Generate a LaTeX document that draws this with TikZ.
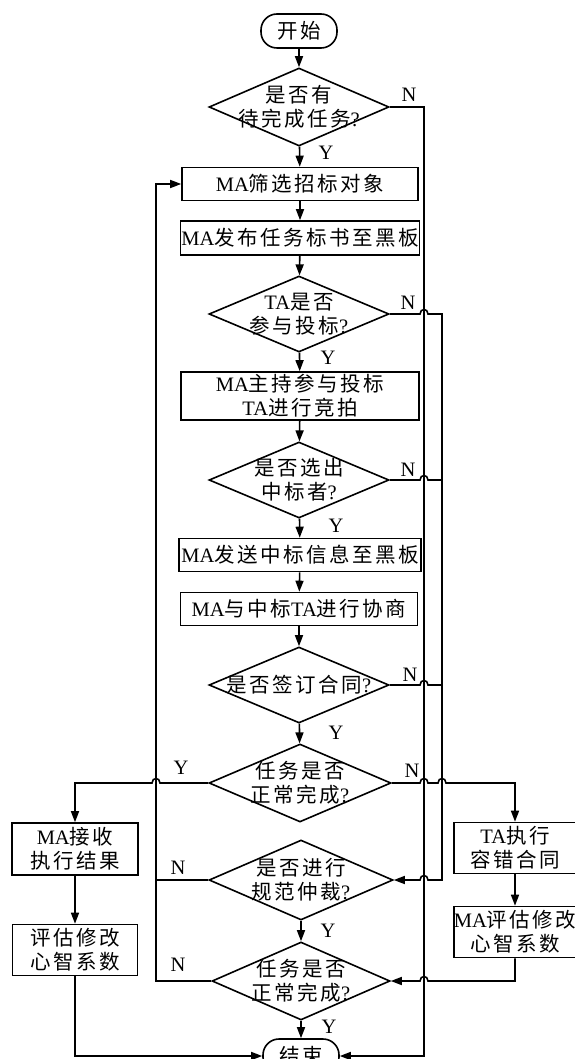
\documentclass[tikz,border=0pt]{standalone}
\usepackage{fontspec}
\setmainfont{Liberation Serif}
\newfontfamily\cjk{Noto Sans CJK SC}[LetterSpace=12]
\usetikzlibrary{shapes.geometric,arrows.meta}
\newcommand\zh[1]{{\cjk #1}}
\begin{document}
\begin{tikzpicture}[x=1pt,y=-1pt,line width=1.6pt,
  font=\fontsize{20.5}{24}\selectfont,
  >={Triangle[length=11pt,width=8pt]},
  box/.style={draw,rectangle,inner sep=0pt,align=center},
  dia/.style={draw,diamond,inner sep=0pt,minimum width=180pt,minimum height=78pt},
  term/.style={draw,rectangle,rounded corners=16pt,inner sep=0pt,minimum width=76pt,minimum height=34pt},
  txt/.style={inner sep=0pt,align=center},
  lbl/.style={inner sep=0pt}]
\useasboundingbox (0,0) rectangle (574,1059);
% nodes
\node[term] (start) at (299,31) {\zh{开始}};
\node[dia] (d1) at (299,107) {};
\node[txt] (d1t) at (d1) {\zh{是否有}\\\zh{待完成任务}?};
\node[box,minimum width=236pt,minimum height=33pt] (b1) at (300,184) {MA\zh{筛选招标对象}};
\node[box,minimum width=239pt,minimum height=34pt] (b2) at (300,238) {MA\zh{发布任务标书至黑板}};
\node[dia,minimum height=76pt] (d2) at (299,314) {};
\node[txt] (d2t) at (d2) {TA\zh{是否}\\\zh{参与投标}?};
\node[box,minimum width=238pt,minimum height=48pt] (b3) at (300,396) {MA\zh{主持参与投标}\\TA\zh{进行竞拍}};
\node[dia,minimum height=76pt] (d3) at (299,480) {};
\node[txt] (d3t) at (d3) {\zh{是否选出}\\\zh{中标者}?};
\node[box,minimum width=242pt,minimum height=33pt] (b4) at (300,555) {MA\zh{发送中标信息至黑板}};
\node[box,minimum width=237pt,minimum height=33pt] (b5) at (299,609) {MA\zh{与中标}TA\zh{进行协商}};
\node[dia,minimum height=76pt] (d4) at (299,685) {};
\node[txt] (d4t) at (d4) {\zh{是否签订合同}?};
\node[dia,minimum width=182pt] (d5) at (300,783) {};
\node[txt] (d5t) at (d5) {\zh{任务是否}\\\zh{正常完成}?};
\node[dia,minimum width=184pt,minimum height=80pt] (d6) at (301,880) {};
\node[txt] (d6t) at (d6) {\zh{是否进行}\\\zh{规范仲裁}?};
\node[dia,minimum width=178pt] (d7) at (301,981) {};
\node[txt] (d7t) at (d7) {\zh{任务是否}\\\zh{正常完成}?};
\node[term] (end) at (301,1056) {\zh{结束}};
\node[box,minimum width=126pt,minimum height=52pt] (l1) at (75,849) {MA\zh{接收}\\\zh{执行结果}};
\node[box,minimum width=125pt,minimum height=51pt] (l2) at (75,950) {\zh{评估修改}\\\zh{心智系数}};
\node[box,minimum width=122pt,minimum height=51pt] (r1) at (515,848) {TA\zh{执行}\\\zh{容错合同}};
\node[box,minimum width=122pt,minimum height=51pt] (r2) at (515,932) {MA\zh{评估修改}\\\zh{心智系数}};
% labels
\node[lbl] (n1) at (409,95) {N};
\node[lbl] (y1) at (326,153) {Y};
\node[lbl] (n2) at (408,303) {N};
\node[lbl] (y2) at (328,358) {Y};
\node[lbl] (n3) at (408,470) {N};
\node[lbl] (y3) at (336,526) {Y};
\node[lbl] (n4) at (410,675) {N};
\node[lbl] (y4) at (336,733) {Y};
\node[lbl] (y5) at (181,768) {Y};
\node[lbl] (n5) at (412,771) {N};
\node[lbl] (n6) at (178,868) {N};
\node[lbl] (y6) at (328,931) {Y};
\node[lbl] (n7) at (178,965) {N};
\node[lbl] (y7) at (329,1027) {Y};
% coordinates
\coordinate (rx) at (424,500);
\coordinate (lx) at (156,500);
% main flow
\draw[->] (start) -- (d1);
\draw[->] (d1) -- (b1);
\draw[->] (b1) -- (b2);
\draw[->] (b2) -- (d2);
\draw[->] (d2) -- (b3);
\draw[->] (b3) -- (d3);
\draw[->] (d3) -- (b4);
\draw[->] (b4) -- (b5);
\draw[->] (b5) -- (d4);
\draw[->] (d4) -- (d5);
\draw[->] (d6) -- (d7);
\draw[->] (d7) -- (end);
% outer right line
\draw[->] (d1.east) -| (rx) |- (end.east);
% inner right line collecting N
\draw[->] (d2.east) -- (420,314) .. controls (420,308) and (428,308) .. (428,314) -- (442,314) -- (442,880) -- (428,880) .. controls (428,874) and (420,874) .. (420,880) -- (d6.east);
\draw (d3.east) -- (420,480) .. controls (420,474) and (428,474) .. (428,480) -- (442,480);
\draw (d4.east) -- (420,685) .. controls (420,679) and (428,679) .. (428,685) -- (442,685);
% task N branch
\draw[->] (d5.east) -- (420,783) .. controls (420,777) and (428,777) .. (428,783) -- (438,783) .. controls (438,777) and (446,777) .. (446,783) -| (r1.north);
\draw[->] (r1) -- (r2);
\draw[->] (r2.south) -- (515,981) -- (428,981) .. controls (428,975) and (420,975) .. (420,981) -- (d7.east);
% task Y branch
\draw[->] (d5.west) -- (160,783) .. controls (160,777) and (152,777) .. (152,783) -| (l1.north);
\draw[->] (l1) -- (l2);
\draw[->] (l2.south) |- (end.west);
% left return line
\draw (d6.west) -- (156,880);
\draw[->] (d7.west) -| (lx) |- (b1.west);
\end{tikzpicture}
\end{document}
